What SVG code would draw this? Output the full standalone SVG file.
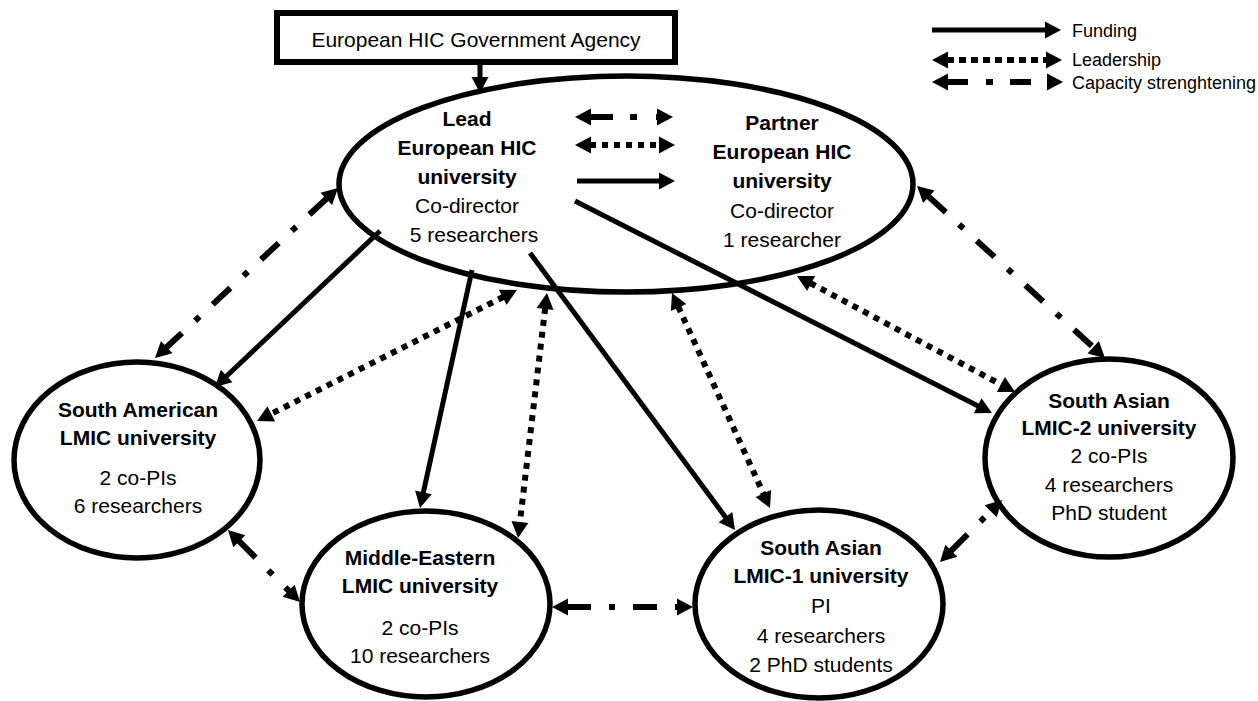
<svg xmlns="http://www.w3.org/2000/svg" width="1258" height="701" viewBox="0 0 1258 701">
<style>
  .node { fill: #ffffff; stroke: #000000; stroke-width: 5.5; }
  .t { font-family: "Liberation Sans", Arial, sans-serif; font-size: 21px; fill: #000000; text-anchor: middle; }
  .b { font-weight: bold; }
  .lg { font-family: "Liberation Sans", Arial, sans-serif; font-size: 18px; fill: #000000; }
  .fund { fill: none; stroke: #000000; stroke-width: 5; marker-end: url(#ah); }
  .lead { fill: none; stroke: #000000; stroke-width: 6; stroke-dasharray: 6 6; marker-start: url(#ah); marker-end: url(#ah); }
  .cap { fill: none; stroke: #000000; stroke-width: 6; stroke-dasharray: 24 18 6 18; marker-start: url(#ah); marker-end: url(#ah); }
</style>
<defs>
  <marker id="ah" markerUnits="userSpaceOnUse" viewBox="-2 -10 20 20" markerWidth="20" markerHeight="20" refX="1" refY="0" orient="auto-start-reverse" overflow="visible">
    <path d="M0,-8.5 L16,0 L0,8.5 z" fill="#000000"/>
  </marker>
</defs>
<rect width="1258" height="701" fill="#ffffff"/>

<g id="agency">
  <rect x="277" y="13" width="398" height="49" fill="#ffffff" stroke="#000000" stroke-width="6"/>
  <text class="t" x="476" y="47">European HIC Government Agency</text>
</g>

<g id="lead-partner">
  <ellipse class="node" cx="626" cy="184" rx="287" ry="108"/>
  <text class="t b" x="467" y="126">Lead</text>
  <text class="t b" x="467" y="155">European HIC</text>
  <text class="t b" x="467" y="184">university</text>
  <text class="t" x="467" y="213">Co-director</text>
  <text class="t" x="474" y="242">5 researchers</text>
  <text class="t b" x="782" y="130">Partner</text>
  <text class="t b" x="782" y="159">European HIC</text>
  <text class="t b" x="782" y="188">university</text>
  <text class="t" x="782" y="218">Co-director</text>
  <text class="t" x="782" y="247">1 researcher</text>
</g>

<g id="south-american">
  <ellipse class="node" cx="137" cy="460" rx="123" ry="98"/>
  <text class="t b" x="138" y="417">South American</text>
  <text class="t b" x="138" y="445">LMIC university</text>
  <text class="t" x="138" y="485">2 co-PIs</text>
  <text class="t" x="138" y="513">6 researchers</text>
</g>

<g id="middle-eastern">
  <ellipse class="node" cx="426" cy="604" rx="124" ry="93"/>
  <text class="t b" x="420" y="565">Middle-Eastern</text>
  <text class="t b" x="420" y="593">LMIC university</text>
  <text class="t" x="420" y="635">2 co-PIs</text>
  <text class="t" x="420" y="663">10 researchers</text>
</g>

<g id="south-asian-1">
  <ellipse class="node" cx="819" cy="604" rx="124" ry="94"/>
  <text class="t b" x="821" y="555">South Asian</text>
  <text class="t b" x="821" y="583">LMIC-1 university</text>
  <text class="t" x="821" y="613">PI</text>
  <text class="t" x="821" y="643">4 researchers</text>
  <text class="t" x="821" y="672">2 PhD students</text>
</g>

<g id="south-asian-2">
  <ellipse class="node" cx="1109" cy="458" rx="124" ry="99"/>
  <text class="t b" x="1109" y="408">South Asian</text>
  <text class="t b" x="1109" y="435">LMIC-2 university</text>
  <text class="t" x="1109" y="463">2 co-PIs</text>
  <text class="t" x="1109" y="492">4 researchers</text>
  <text class="t" x="1109" y="520">PhD student</text>
</g>

<g id="connectors">
  <line class="fund" x1="480" y1="62" x2="480" y2="78"/>
  <line class="fund" x1="380" y1="231" x2="225.9" y2="376.7"/>
  <line class="fund" x1="472" y1="270" x2="423.2" y2="493.3"/>
  <line class="fund" x1="530" y1="253" x2="726.1" y2="517.9"/>
  <line class="fund" x1="575" y1="201" x2="978.6" y2="406.2"/>

  <line class="lead" x1="503.6" y1="296.8" x2="270.4" y2="414.3"/>
  <line class="lead" x1="545.2" y1="307.9" x2="519.8" y2="523.1"/>
  <line class="lead" x1="678.2" y1="306.6" x2="763.8" y2="494.4"/>
  <line class="lead" x1="810.2" y1="283.0" x2="1001.8" y2="385.0"/>

  <line class="cap" x1="327.0" y1="198.2" x2="166.0" y2="347.8"/>
  <line class="cap" x1="928.1" y1="196.1" x2="1093.9" y2="347.9"/>
  <line class="cap" x1="238.6" y1="540.6" x2="289.4" y2="591.4"/>
  <line class="cap" x1="567" y1="607" x2="678" y2="607"/>
  <line class="cap" x1="950.6" y1="551.4" x2="991.4" y2="510.6"/>

  <line class="cap" x1="590" y1="117" x2="658" y2="117" style="stroke-dasharray: 23 17 7 19"/>
  <line class="lead" x1="590" y1="145" x2="660" y2="145"/>
  <line class="fund" x1="577" y1="181" x2="660" y2="181"/>
</g>

<g id="legend">
  <line class="fund" x1="932" y1="30" x2="1046" y2="30"/>
  <line class="lead" x1="947" y1="60" x2="1047" y2="60" style="stroke-dasharray: 7 5"/>
  <line class="cap" x1="947" y1="82" x2="1048" y2="82" style="stroke-dasharray: 21 18 7 17"/>
  <text class="lg" x="1072" y="37">Funding</text>
  <text class="lg" x="1072" y="66">Leadership</text>
  <text class="lg" x="1072" y="89">Capacity strenghtening</text>
</g>
</svg>
